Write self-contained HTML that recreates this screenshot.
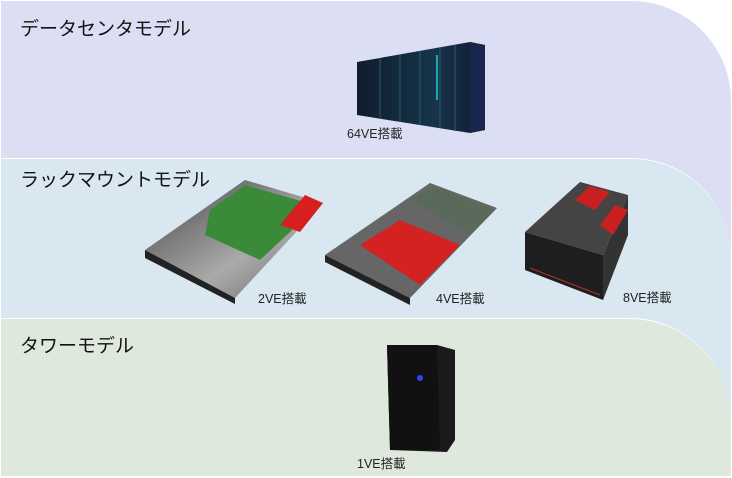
<!DOCTYPE html>
<html><head><meta charset="utf-8"><style>
html,body{margin:0;padding:0;background:#fff;}
body{width:732px;height:478px;position:relative;overflow:hidden;font-family:"Liberation Sans","Noto Sans CJK JP",sans-serif;}
.b{position:absolute;left:1px;right:1px;bottom:2px;border-top-right-radius:100px 100px;}
.t{position:absolute;font-size:19px;color:#111;left:20px;}
.l{position:absolute;font-size:12.5px;color:#222;}
svg{position:absolute;left:0;top:0;}
</style></head><body>
<div class="b" style="top:1px;background:#dcdff3;"></div>
<div class="b" style="top:158px;background:#d8e7f0;border-top:1px solid #fff;"></div>
<div class="b" style="top:318px;background:#dfe8dc;border-top:1px solid #fff;right:2px;"></div>
<div class="t" style="top:14px;">データセンタモデル</div>
<div class="t" style="top:165px;">ラックマウントモデル</div>
<div class="t" style="top:331px;">タワーモデル</div>
<svg width="732" height="478" viewBox="0 0 732 478">
<defs>
<linearGradient id="dc" x1="0" x2="1"><stop offset="0" stop-color="#0f1d2c"/><stop offset="0.6" stop-color="#17344a"/><stop offset="1" stop-color="#101c33"/></linearGradient>
<linearGradient id="mt" x1="0" y1="0" x2="1" y2="1"><stop offset="0" stop-color="#444"/><stop offset="0.6" stop-color="#aaa"/><stop offset="1" stop-color="#666"/></linearGradient>
</defs>
<polygon points="357,62 470,42 485,45 485,130 470,133 357,115" fill="url(#dc)"/>
<polygon points="470,42 485,45 485,130 470,133" fill="#1a2550"/>
<g stroke="#2a5a70" stroke-width="1">
<line x1="380" y1="58" x2="380" y2="119"/><line x1="400" y1="55" x2="400" y2="122"/><line x1="420" y1="51" x2="420" y2="125"/><line x1="440" y1="48" x2="440" y2="128"/><line x1="455" y1="45" x2="455" y2="131"/></g>
<line x1="437" y1="55" x2="437" y2="100" stroke="#2aa" stroke-width="2"/>
<polygon points="145,250 245,180 323,203 235,298" fill="url(#mt)"/>
<polygon points="145,250 235,298 235,304 145,258" fill="#222"/>
<polygon points="210,210 245,185 315,205 290,232 260,260 205,235" fill="#3a8a3a"/>
<polygon points="280,225 305,195 323,203 300,232" fill="#d62020"/>
<polygon points="325,255 430,183 497,208 410,298" fill="#666"/>
<polygon points="325,255 410,298 410,305 325,262" fill="#222"/>
<polygon points="360,245 400,220 460,245 420,285" fill="#d42222"/>
<polygon points="410,200 435,187 495,210 470,235" fill="#5a6a5a"/>
<polygon points="525,232 603,255 603,300 525,270" fill="#1e1e1e"/>
<polygon points="603,255 628,195 628,235 603,300" fill="#333"/>
<polygon points="525,232 580,182 628,195 603,255" fill="#444"/>
<polygon points="575,200 590,186 610,192 595,210" fill="#c82020"/>
<polygon points="600,225 615,205 628,210 613,235" fill="#c82020"/>
<g stroke="#a33" stroke-width="1"><line x1="530" y1="268" x2="600" y2="295"/></g>
<polygon points="387,345 437,345 455,350 455,440 447,452 390,450" fill="#1a1a1a"/>
<polygon points="387,345 437,345 440,450 390,450" fill="#111"/>
<circle cx="420" cy="378" r="3" fill="#3344ff"/>
</svg>
<div class="l" style="left:347px;top:123px;">64VE搭載</div>
<div class="l" style="left:258px;top:288px;">2VE搭載</div>
<div class="l" style="left:436px;top:288px;">4VE搭載</div>
<div class="l" style="left:623px;top:287px;">8VE搭載</div>
<div class="l" style="left:357px;top:453px;">1VE搭載</div>
</body></html>
